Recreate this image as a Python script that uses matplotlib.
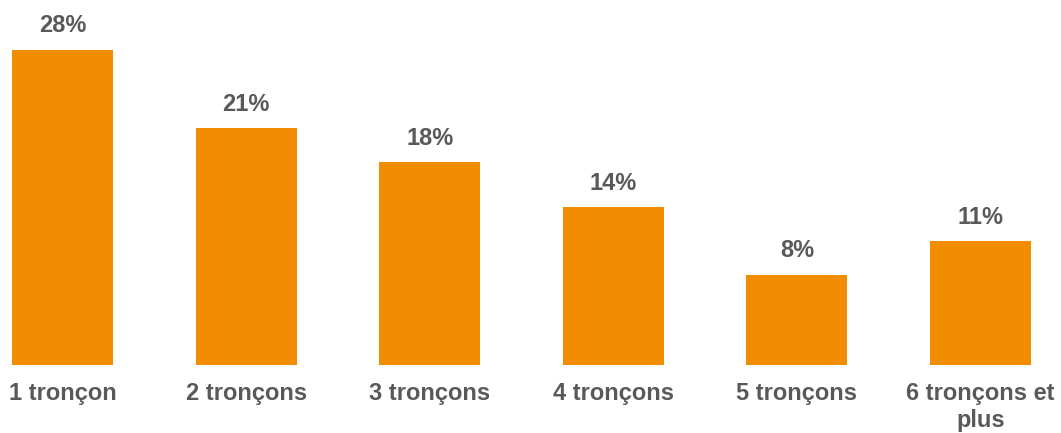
import matplotlib
matplotlib.use("Agg")
import matplotlib.pyplot as plt

categories = ["1 tronçon", "2 tronçons", "3 tronçons", "4 tronçons",
              "5 tronçons", "6 tronçons et\nplus"]
values = [28, 21, 18, 14, 8, 11]

BAR_COLOR = "#F28C00"
TEXT_COLOR = "#595959"

plt.rcParams["font.family"] = ["Liberation Sans", "DejaVu Sans"]

fig = plt.figure(figsize=(10.61, 4.33), dpi=100)
ax = fig.add_axes([12 / 1061, 68 / 433, 1019 / 1061, 320 / 433])

x = list(range(len(categories)))
bars = ax.bar(x, values, width=0.55, color=BAR_COLOR)

# percentage above each bar
for bar, v in zip(bars, values):
    ax.annotate(f"{v}%", (bar.get_x() + bar.get_width() / 2, v),
                xytext=(0, 9), textcoords="offset points",
                ha="center", va="bottom", fontsize=17, fontweight="bold",
                color=TEXT_COLOR, annotation_clip=False)

ax.set_xlim(-0.275, 5.275)
ax.set_ylim(0, 28.4)
ax.set_xticks(x)
ax.set_xticklabels(categories, fontsize=17, fontweight="bold",
                   color=TEXT_COLOR, linespacing=1.25)
ax.tick_params(axis="x", length=0, pad=12)
ax.set_yticks([])
for s in ax.spines.values():
    s.set_visible(False)

fig.savefig("out.png", dpi=100)
